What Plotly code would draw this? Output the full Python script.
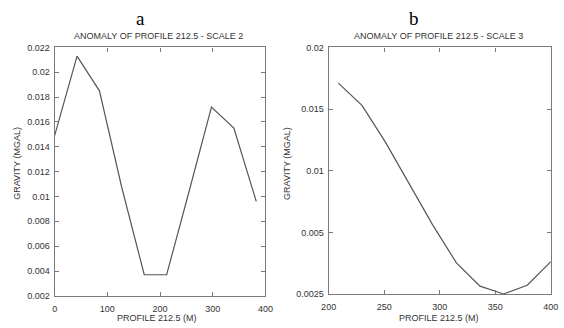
import plotly.graph_objects as go

# Panel a data
xa = [0, 42.5, 85, 127.5, 170, 212.5, 255, 297.5, 340, 382.5]
ya = [0.0149, 0.0213, 0.0185, 0.0107, 0.0037, 0.0037, 0.0104, 0.0172, 0.0155, 0.0096]
# Panel b data
xb = [208.75, 230, 251.25, 272.5, 293.75, 315, 336.25, 357.5, 378.75, 400]
yb = [0.0171, 0.0153, 0.0123, 0.0090, 0.0056, 0.00254, 0.00065, 0.00002, 0.00073, 0.00264]

xa_ticks = [0, 100, 200, 300, 400]
ya_ticks = [0.002, 0.004, 0.006, 0.008, 0.01, 0.012, 0.014, 0.016, 0.018, 0.02, 0.022]
ya_text = ["0.002", "0.004", "0.006", "0.008", "0.01", "0.012", "0.014", "0.016", "0.018", "0.02", "0.022"]
xb_ticks = [200, 250, 300, 350, 400]
yb_ticks = [0, 0.005, 0.01, 0.015, 0.02]
yb_text = ["0.0025", "0.005", "0.01", "0.015", "0.02"]

W, H = 564, 328
FONT = "Liberation Sans, Arial, sans-serif"
TXT = "#333333"
FRAME = "#7a7a7a"
FS = 9

fig = go.Figure()
fig.add_trace(go.Scatter(x=xa, y=ya, mode="lines", line=dict(color="#555555", width=1.2),
                         xaxis="x", yaxis="y", showlegend=False))
fig.add_trace(go.Scatter(x=xb, y=yb, mode="lines", line=dict(color="#555555", width=1.2),
                         xaxis="x2", yaxis="y2", showlegend=False))

ax_common = dict(showgrid=False, zeroline=False, showline=True, linecolor=FRAME, linewidth=1.3,
                 mirror="allticks", ticks="inside", ticklen=4, tickcolor=FRAME, tickwidth=1,
                 tickfont=dict(family=FONT, size=FS, color=TXT))

fig.update_layout(
    width=W, height=H, margin=dict(l=0, r=0, t=0, b=0),
    paper_bgcolor="white", plot_bgcolor="white",
    xaxis=dict(domain=[48 / W, 265 / W], range=[0, 400], tickvals=xa_ticks, anchor="y",
               ticklabelstandoff=4, **ax_common),
    yaxis=dict(domain=[1 - 300 / H, 1 - 43.7 / H], range=[0.002, 0.022], tickvals=ya_ticks,
               ticktext=ya_text, anchor="x", ticklabelstandoff=2, **ax_common),
    xaxis2=dict(domain=[330 / W, 558.7 / W], range=[200, 400], tickvals=xb_ticks, anchor="y2",
                ticklabelstandoff=4, **ax_common),
    yaxis2=dict(domain=[1 - 298.3 / H, 1 - 43.7 / H], range=[0, 0.02], tickvals=yb_ticks,
                ticktext=yb_text, anchor="x2", ticklabelstandoff=2, **ax_common),
)

def ann(text, x, y, size, family=FONT, angle=0, color=TXT):
    fig.add_annotation(text=text, x=x / W, y=1 - y / H, xref="paper", yref="paper",
                       showarrow=False, xanchor="center", yanchor="middle", textangle=angle,
                       font=dict(family=family, size=size, color=color))

ann("a", 136, 14, 19, family="Liberation Serif, Times New Roman, serif", color="#000000")
ann("b", 418, 14, 19, family="Liberation Serif, Times New Roman, serif", color="#000000")
ann("ANOMALY OF PROFILE 212.5 - SCALE 2", 155, 32, FS)
ann("ANOMALY OF PROFILE 212.5 - SCALE 3", 443, 32, FS)
ann("GRAVITY (MGAL)", 9, 163, FS, angle=-90)
ann("GRAVITY (MGAL)", 287, 163, FS, angle=-90)
ann("PROFILE 212.5 (M)", 153, 323, FS)
ann("PROFILE 212.5 (M)", 444, 323, FS)

fig.write_html("out.html")
